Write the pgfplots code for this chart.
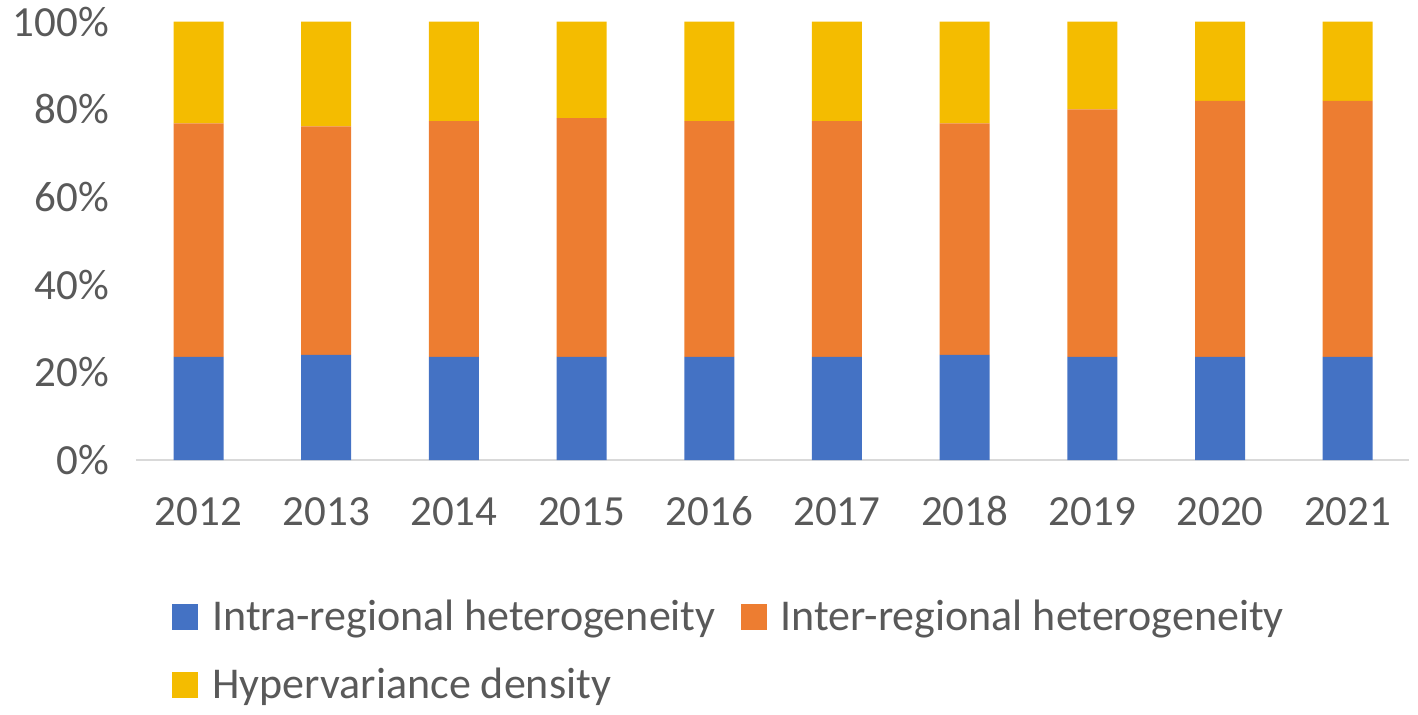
\documentclass[border=0pt]{standalone}
\usepackage{fontspec}
\setmainfont{Carlito}
\usepackage{pgfplots}
\usepackage{pgfplotstable}
\pgfplotsset{compat=1.18}
\definecolor{cblue}{HTML}{4472C4}
\definecolor{corange}{HTML}{ED7D31}
\definecolor{cyellow}{HTML}{F4BC00}
\definecolor{txt}{HTML}{595959}
\definecolor{axgray}{HTML}{D9D9D9}
\pgfplotstableread{
x blue orange yellow
0 23.5 53.3 23.2
1 24.0 52.1 23.9
2 23.5 53.8 22.7
3 23.5 54.5 22.0
4 23.5 53.8 22.7
5 23.5 53.8 22.7
6 24.0 52.8 23.2
7 23.5 56.5 20.0
8 23.5 58.4 18.1
9 23.5 58.4 18.1
}\datatable
\begin{document}
\begin{tikzpicture}
\useasboundingbox (-68pt,-127pt) rectangle (641pt,230pt);
\begin{axis}[
  at={(0,0)}, anchor=south west,
  scale only axis, width=636.5pt, height=219.2pt,
  ybar stacked, bar width=25pt,
  xmin=-0.49, xmax=9.48, ymin=0, ymax=100,
  xtick={0,...,9},
  xticklabels={2012,2013,2014,2015,2016,2017,2018,2019,2020,2021},
  ytick={0,20,40,60,80,100},
  yticklabel={\pgfmathprintnumber{\tick}\%},
  /pgf/number format/assume math mode=true,
  axis lines*=left,
  x axis line style={draw=axgray, line width=1.1pt},
  y axis line style={draw=none},
  major tick length=0pt,
  tick style={draw=none},
  ticklabel style={font=\fontsize{21.5}{26}\selectfont, text=txt},
  xticklabel style={anchor=north, text height=14pt, text depth=0pt, yshift=-15pt},
  yticklabel style={xshift=-10pt},
  legend columns=2,
  legend cell align=left,
  legend image code/.code={\fill[#1] (0pt,-6.5pt) rectangle (13pt,6.5pt);},
  legend style={
    at={(axis description cs:0.0283,-0.31)}, anchor=north west,
    draw=none, fill=none, inner sep=0pt,
    font=\fontsize{22}{26}\selectfont, text=txt,
    row sep=13pt,
    /tikz/every odd column/.append style={column sep=5pt},
    /tikz/every even column/.append style={column sep=10.5pt},
  },
]
\addplot[fill=cblue, draw=none] table[x=x,y=blue]{\datatable};
\addplot[fill=corange, draw=none] table[x=x,y=orange]{\datatable};
\addplot[fill=cyellow, draw=none] table[x=x,y=yellow]{\datatable};
\legend{Intra-regional heterogeneity, Inter-regional heterogeneity, Hypervariance density}
\end{axis}
\end{tikzpicture}
\end{document}
